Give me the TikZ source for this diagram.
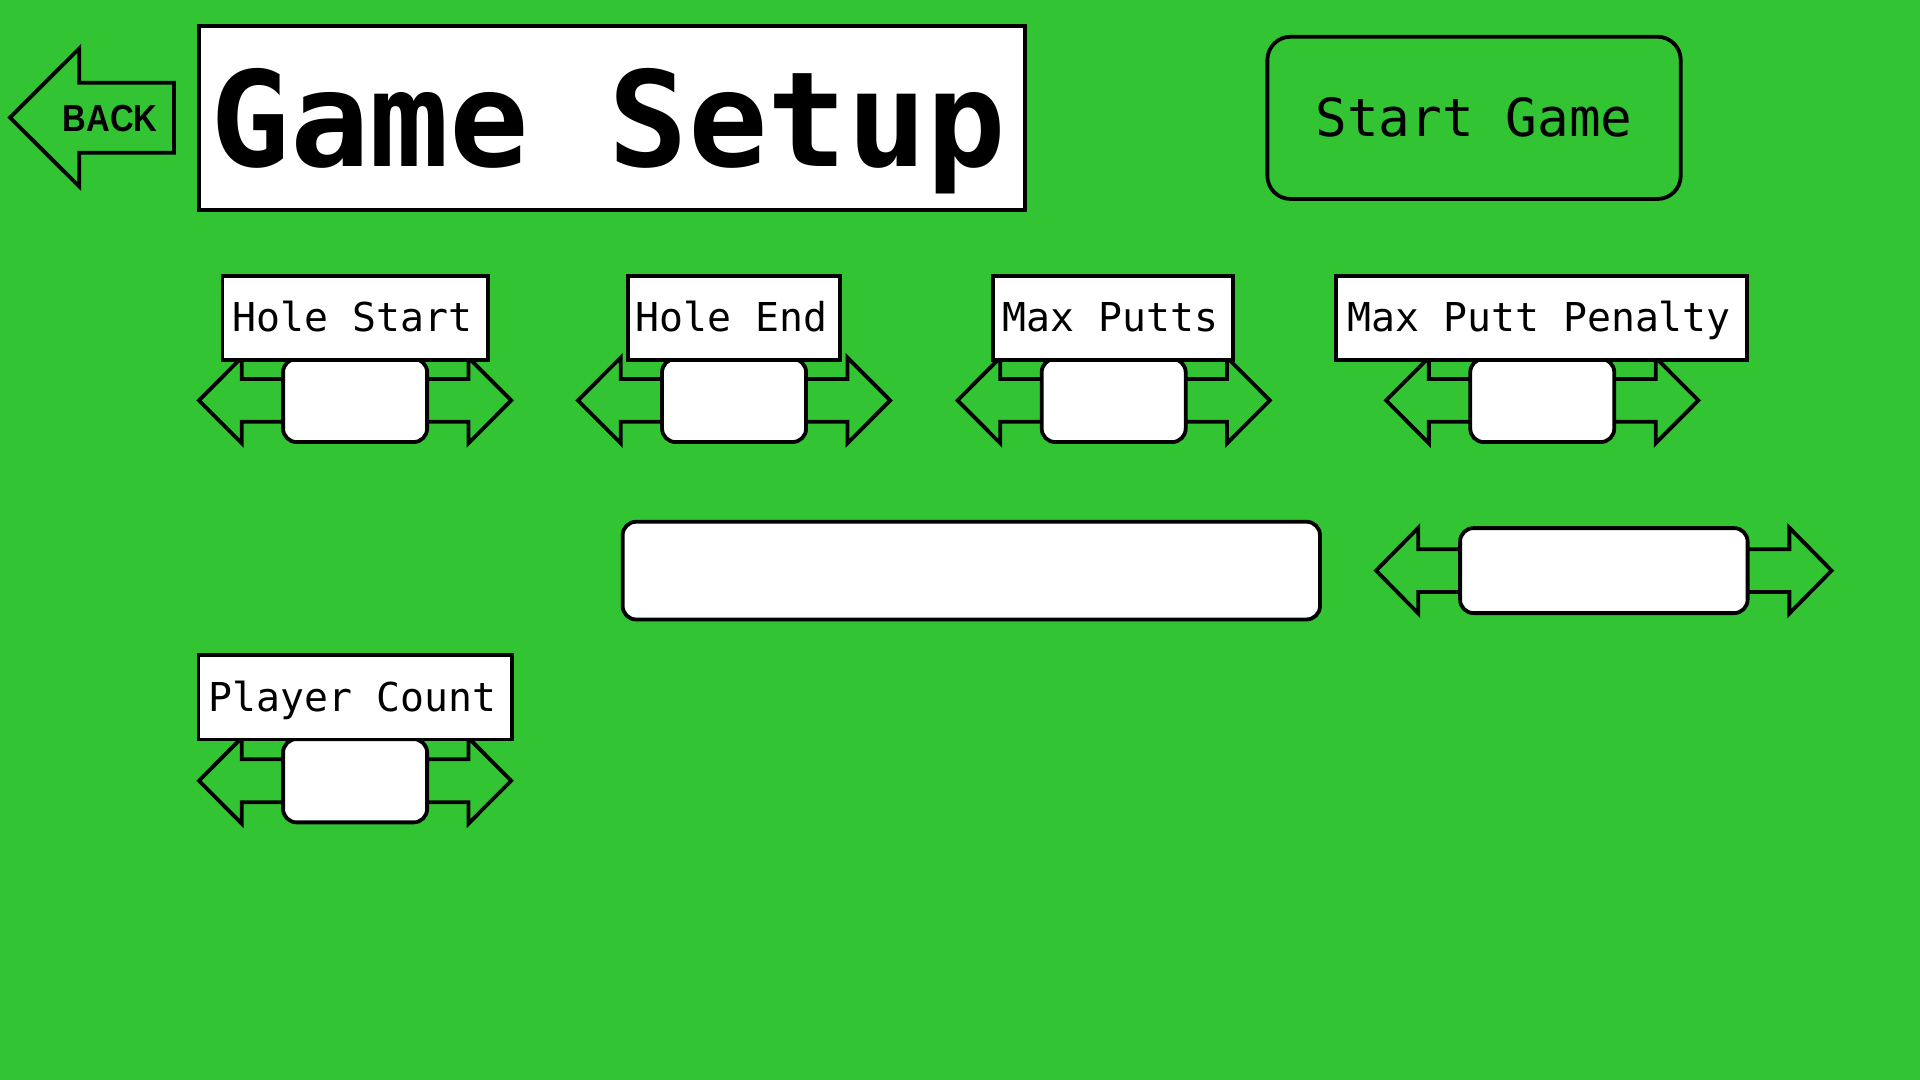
\documentclass[tikz,border=0pt]{standalone}
\usepackage{fontspec}
\setmonofont{DejaVu Sans Mono}
\newfontfamily\backfont{Liberation Sans}
\definecolor{bggreen}{RGB}{51,196,51}
\newcommand{\fsz}[1]{\fontsize{#1}{#1}\selectfont}
\tikzset{
  outline/.style={draw=black, line width=1.55pt, line join=miter},
  plainbox/.style={outline, fill=white, inner sep=0pt, rectangle},
  spinbox/.style={outline, fill=white, inner sep=0pt, rectangle, rounded corners=5.5pt},
  labeltext/.style={inner sep=0pt, anchor=base, font=\ttfamily\fsz{16.25pt}},
}
% #1 name, #2 cx, #3 cy, #4 head back, #5 tip, #6 box half w (units), #7 box half h (units)
\newcommand{\spinner}[7]{%
  \draw[outline, fill=bggreen] ({#2-#5},#3) -- ({#2-#4},{#3-35}) -- ({#2-#4},{#3-17.5})
    -- ({#2+#4},{#3-17.5}) -- ({#2+#4},{#3-35}) -- ({#2+#5},#3) -- ({#2+#4},{#3+35})
    -- ({#2+#4},{#3+17.5}) -- ({#2-#4},{#3+17.5}) -- ({#2-#4},{#3+35}) -- cycle;
  \node[spinbox, minimum width=#6pt, minimum height=#7pt] (#1) at (#2,#3) {};
}
% #1 name, #2 cx, #3 top, #4 width (units), #5 text
\newcommand{\labelbox}[5]{%
  \node[plainbox, anchor=north, minimum width=#4*0.5pt, minimum height=34.4pt] (#1box) at (#2,#3) {};
  \node[labeltext] (#1text) at ({#2-2},{#3+47.2}) {#5};
}
\begin{document}
\begin{tikzpicture}[x=0.5pt,y=-0.5pt]
  \fill[bggreen] (0,0) rectangle (1568,882);
  \useasboundingbox (0,0) rectangle (1568,882);

  % back arrow
  \draw[outline] (8.2,96) -- (64.8,39.5) -- (64.8,67.5) -- (142.1,67.5) -- (142.1,124.7)
    -- (64.8,124.7) -- (64.8,152.4) -- cycle;
  \node[inner sep=0pt, anchor=base] (back) at (89.9,107.5)
    {\scalebox{0.87}[1]{\backfont\bfseries\fsz{15.4pt}BACK}};

  % title
  \node[plainbox, minimum width=337.25pt, minimum height=75.25pt] (titlebox) at (499.75,96.25) {};
  \node[inner sep=0pt, anchor=base, font=\ttfamily\bfseries\fsz{54pt}] (title) at (497,136.1) {Game Setup};

  % start game
  \node[outline, rectangle, rounded corners=9.5pt, inner sep=0pt, minimum width=168.8pt, minimum height=66.25pt] (startbox) at (1203.8,96.25) {};
  \node[inner sep=0pt, anchor=base, font=\ttfamily\fsz{21.5pt}] (starttext) at (1203.8,111.6) {Start Game};

  % spinners row 1
  \spinner{holestartspin}{290}{327}{92.6}{127.5}{58.8}{34}
  \spinner{holeendspin}{599.5}{327}{92.6}{127.5}{58.8}{34}
  \spinner{maxputtsspin}{909.5}{327}{92.6}{127.5}{58.8}{34}
  \spinner{penaltyspin}{1259.5}{327}{92.6}{127.5}{58.8}{34}

  % labels row 1
  \labelbox{holestart}{290}{223.8}{216.7}{Hole Start}
  \labelbox{holeend}{599.5}{223.8}{173}{Hole End}
  \labelbox{maxputts}{909}{223.8}{196}{Max Putts}
  \labelbox{penalty}{1259}{223.8}{336}{Max Putt Penalty}

  % wide text field and wide spinner
  \node[spinbox, minimum width=284.75pt, minimum height=39.9pt] (namefield) at (793.25,466) {};
  \spinner{widespin}{1309.8}{466}{151.5}{186}{117.4}{34.7}

  % player count
  \spinner{playerspin}{290}{637.6}{92.6}{127.5}{58.8}{34}
  \labelbox{player}{290}{533.6}{255.9}{Player Count}
\end{tikzpicture}
\end{document}
